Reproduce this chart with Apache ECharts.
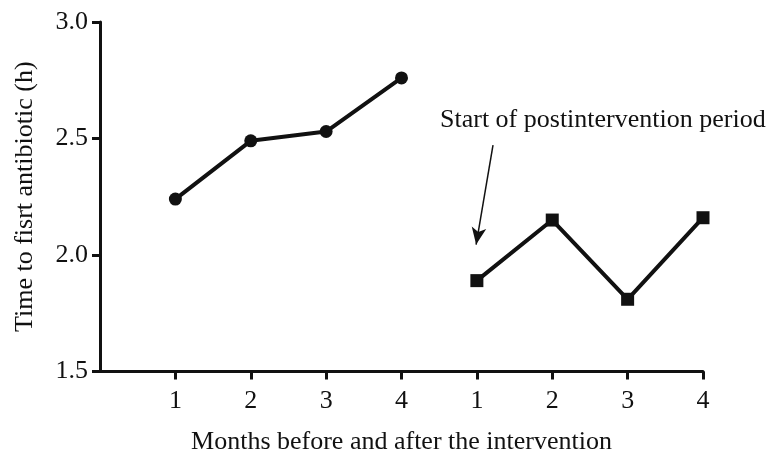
<!DOCTYPE html>
<html>
<head>
<meta charset="utf-8">
<script src="https://cdn.jsdelivr.net/npm/echarts@6/dist/echarts.min.js"></script>
<style>html,body{margin:0;padding:0;background:#fff;}#c{width:769px;height:455px;}</style>
</head>
<body>
<div id="c"></div>
<script>
var xPositions = [1, 2, 3, 4, 5, 6, 7, 8];
var xTickLabels = ['1', '2', '3', '4', '1', '2', '3', '4'];
var preX = [1, 2, 3, 4];
var preValues = [2.24, 2.49, 2.53, 2.76];
var postX = [5, 6, 7, 8];
var postValues = [1.89, 2.15, 1.81, 2.16];
var yTicks = [1.5, 2.0, 2.5, 3.0];
var xTitle = 'Months before and after the intervention';
var yTitle = 'Time to fisrt antibiotic (h)';
var annotationText = 'Start of postintervention period';

var FONT = '"Liberation Serif", "Times New Roman", serif';
var chart = echarts.init(document.getElementById('c'));

function pairs(xs, ys) { return xs.map(function (x, i) { return [x, ys[i]]; }); }

chart.setOption({
  animation: false,
  backgroundColor: '#fff',
  grid: { left: 100, right: 66, top: 22, bottom: 83.5, containLabel: false, outerBoundsMode: 'none' },
  xAxis: {
    type: 'value', min: 0, max: 8, interval: 1,
    name: xTitle, nameLocation: 'middle', nameGap: 58,
    nameTextStyle: { fontFamily: FONT, fontSize: 26, color: '#111' },
    axisLine: { show: true, lineStyle: { color: '#111', width: 3 } },
    axisTick: { show: true, length: 8, lineStyle: { color: '#111', width: 3 }, customValues: xPositions },
    axisLabel: {
      fontFamily: FONT, fontSize: 26, color: '#111', margin: 17,
      customValues: xPositions,
      formatter: function (v) { var i = xPositions.indexOf(v); return i >= 0 ? xTickLabels[i] : ''; }
    },
    splitLine: { show: false }
  },
  yAxis: {
    type: 'value', min: 1.5, max: 3.0, interval: 0.5,
    name: yTitle, nameLocation: 'middle', nameGap: 62, nameRotate: 90,
    nameTextStyle: { fontFamily: FONT, fontSize: 26, color: '#111' },
    axisLine: { show: true, lineStyle: { color: '#111', width: 3 } },
    axisTick: { show: true, length: 8, lineStyle: { color: '#111', width: 3 } },
    axisLabel: {
      fontFamily: FONT, fontSize: 26, color: '#111', margin: 12,
      formatter: function (v) { return v.toFixed(1); }
    },
    splitLine: { show: false }
  },
  series: [
    {
      type: 'line', data: pairs(preX, preValues),
      symbol: 'circle', symbolSize: 13,
      lineStyle: { color: '#111', width: 4 },
      itemStyle: { color: '#111' }
    },
    {
      type: 'line', data: pairs(postX, postValues),
      symbol: 'rect', symbolSize: 13,
      lineStyle: { color: '#111', width: 4 },
      itemStyle: { color: '#111' },
      markLine: {
        silent: true,
        symbol: ['none', 'arrow'], symbolSize: [11, 17],
        label: { show: false },
        lineStyle: { color: '#111', width: 1.5, type: 'solid' },
        data: [[{ coord: [5.214, 2.472] }, { coord: [4.99, 2.045] }]]
      }
    }
  ],
  graphic: [{
    type: 'text', left: 440, top: 107,
    style: { text: annotationText, font: '26px ' + FONT, fill: '#111' }
  }]
});
</script>
</body>
</html>
